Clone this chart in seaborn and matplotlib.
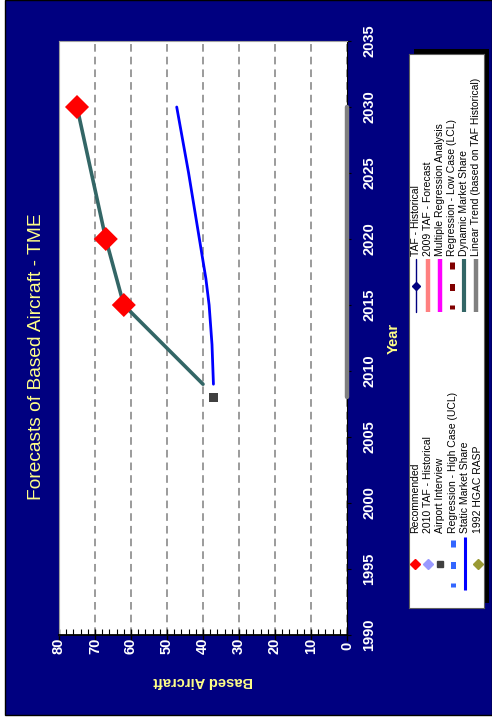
import matplotlib
matplotlib.use("Agg")
import matplotlib.pyplot as plt
from matplotlib.patches import Rectangle
from matplotlib.ticker import MultipleLocator
import seaborn as sns

# ---------------- data ----------------
title = "Forecasts of Based Aircraft - TME"
x_label = "Based Aircraft"
y_label = "Year"

rec_years = [2015, 2020, 2030]
rec_values = [62, 67, 75]

interview_years = [2008]
interview_values = [37]

static_years = [2009, 2012, 2015, 2017, 2020, 2025, 2030]
static_values = [37.1, 37.5, 38.3, 39.2, 41.0, 44.0, 47.3]

dynamic_years = [2009, 2015, 2020, 2030]
dynamic_values = [40, 62, 67, 75]

linear_years = [2008, 2030]
linear_values = [0, 0]

legend_left = ["Recommended", "2010 TAF - Historical", "Airport Interview",
               "Regression - High Case (UCL)", "Static Market Share", "1992 HGAC RASP"]
legend_right = ["TAF - Historical", "2009 TAF - Forecast", "Multiple Regression Analysis",
                "Regression - Low Case (LCL)", "Dynamic Market Share",
                "Linear Trend (based on TAF Historical)"]

# ---------------- styles ----------------
NAVY = "#000080"
YEL = "#FFFF88"
FONT = ["Liberation Sans", "DejaVu Sans"]
styles = {
    "Recommended": dict(kind="marker", color="#FF0000", marker="D", ms=5),
    "2010 TAF - Historical": dict(kind="marker", color="#9999FF", marker="D", ms=5),
    "Airport Interview": dict(kind="marker", color="#404040", marker="s", ms=5),
    "Regression - High Case (UCL)": dict(kind="dash", color="#3366FF"),
    "Static Market Share": dict(kind="line", color="#0000FF", lw=2.2),
    "1992 HGAC RASP": dict(kind="marker", color="#999933", marker="D", ms=5),
    "TAF - Historical": dict(kind="linemarker", color=NAVY, lw=1.0, marker="D", ms=4),
    "2009 TAF - Forecast": dict(kind="line", color="#FF8080", lw=3.2),
    "Multiple Regression Analysis": dict(kind="line", color="#FF00FF", lw=3.2),
    "Regression - Low Case (LCL)": dict(kind="dash", color="#800000"),
    "Dynamic Market Share": dict(kind="line", color="#336666", lw=3.0),
    "Linear Trend (based on TAF Historical)": dict(kind="line", color="#808080", lw=3.2),
}

sns.set_style("white")
plt.rcParams["font.family"] = FONT

W, H = 492, 723
fig = plt.figure(figsize=(W / 100, H / 100), dpi=100)
fig.patch.set_facecolor("white")


def fx(x):
    return x / W


def fy(y):
    return 1 - y / H


fig.patches.append(Rectangle((fx(5), fy(715)), fx(492 - 5), 715 / H, transform=fig.transFigure,
                             facecolor=NAVY, edgecolor="black", lw=1.0, zorder=-10))

ax = fig.add_axes([fx(59), fy(635), fx(288), 594 / H])
ax.set_facecolor("white")

# data marks
sns.lineplot(x=linear_values, y=linear_years, orient="y", sort=False, ax=ax,
             color="#808080", lw=3.2, zorder=3)
ax.lines[-1].set_clip_on(False)
sns.lineplot(x=dynamic_values, y=dynamic_years, orient="y", sort=False, ax=ax,
             color="#336666", lw=2.6, zorder=4)
sns.lineplot(x=static_values, y=static_years, orient="y", sort=False, ax=ax,
             color="#0000FF", lw=2.0, zorder=4)
sns.scatterplot(x=rec_values, y=rec_years, marker="D", s=150, color="#FF0000",
                edgecolor="none", ax=ax, zorder=6)
sns.scatterplot(x=interview_values, y=interview_years, marker="s", s=40, color="#404040",
                edgecolor="none", ax=ax, zorder=6)

ax.set_xlim(80, 0)
ax.set_ylim(1990, 2035)
ax.xaxis.set_major_locator(MultipleLocator(10))
ax.xaxis.set_minor_locator(MultipleLocator(2))
ax.yaxis.set_major_locator(MultipleLocator(5))
ax.yaxis.tick_right()

ax.grid(axis="x", which="major", color="#808080", ls=(0, (5, 3.3)), lw=1.1)
ax.grid(axis="y", visible=False)

for s in ["top", "left"]:
    ax.spines[s].set_color("#A0A0A0")
    ax.spines[s].set_linewidth(0.8)
ax.spines["bottom"].set_color("black")
ax.spines["bottom"].set_linewidth(1.3)
ax.spines["right"].set_color("black")
ax.spines["right"].set_linewidth(0.8)

ax.tick_params(axis="x", which="major", direction="inout", length=8, width=1.0, color="black",
               labelcolor="white", labelsize=10.5, labelrotation=90, pad=4, bottom=True)
ax.tick_params(axis="x", which="minor", direction="in", length=4, width=0.8, color="black",
               bottom=True)
ax.tick_params(axis="y", which="major", direction="out", length=3, width=0.8, color="black",
               labelcolor="white", labelsize=10.5, labelrotation=90, pad=8, right=True, left=False)
ax.set_xticks(range(0, 81, 10))
ax.set_xticklabels([str(v) for v in range(0, 81, 10)])
for lab in ax.get_xticklabels() + ax.get_yticklabels():
    lab.set_fontweight("bold")
    lab.set_va("center")

ax.set_xlabel(x_label, color=YEL, fontsize=10.5, fontweight="bold", rotation=180)
ax.xaxis.set_label_coords(0.5, (635 - 681) / 594)
ax.xaxis.label.set_va("center")
ax.set_ylabel(y_label, color=YEL, fontsize=10.5, fontweight="bold", rotation=90)
ax.yaxis.set_label_position("right")
ax.yaxis.set_label_coords((394 - 59) / 288, 0.5)
ax.yaxis.label.set_va("center")
ax.yaxis.label.set_ha("center")

fig.text(fx(37), fy(357), title, rotation=90, color=YEL, fontsize=13.8,
         ha="center", va="center")

# ---------------- legend (rotated) ----------------
fig.patches.append(Rectangle((fx(414), fy(603)), fx(489 - 414), (603 - 49) / H,
                             transform=fig.transFigure, facecolor="black",
                             edgecolor="none", zorder=1))
lax = fig.add_axes([fx(409), fy(608), fx(484 - 409), (608 - 54) / H], zorder=2)
lax.set_facecolor("white")
lax.set_xlim(409, 484)
lax.set_ylim(608, 54)
lax.set_xticks([])
lax.set_yticks([])
for s in lax.spines.values():
    s.set_color("#606060")
    s.set_linewidth(0.8)


def draw_entry(name, x, y0, y1, ytext):
    st = styles[name]
    ym = (y0 + y1) / 2
    if st["kind"] == "marker":
        lax.plot([x], [ym], marker=st["marker"], ms=st["ms"], color=st["color"], ls="none")
    elif st["kind"] == "line":
        lax.plot([x, x], [y0, y1], color=st["color"], lw=st["lw"], solid_capstyle="butt")
    elif st["kind"] == "linemarker":
        lax.plot([x, x], [y0, y1], color=st["color"], lw=st["lw"])
        lax.plot([x], [ym], marker=st["marker"], ms=st["ms"], color=st["color"])
    elif st["kind"] == "dash":
        lax.plot([x, x], [y0 + 3, y1 - 3], color=st["color"], lw=3.6,
                 ls=(0, (1.4, 2.9)), solid_capstyle="butt", dash_capstyle="butt")
    lax.text(x, ytext, name, rotation=90, ha="center", va="bottom", fontsize=7.5,
             color="black")


for i, name in enumerate(legend_left):
    draw_entry(name, 415 + i * 12.6, 537, 590, 533)
for i, name in enumerate(legend_right):
    draw_entry(name, 416 + i * 12.0, 259, 312, 256)

fig.savefig("out.png", dpi=100, facecolor=fig.get_facecolor())
